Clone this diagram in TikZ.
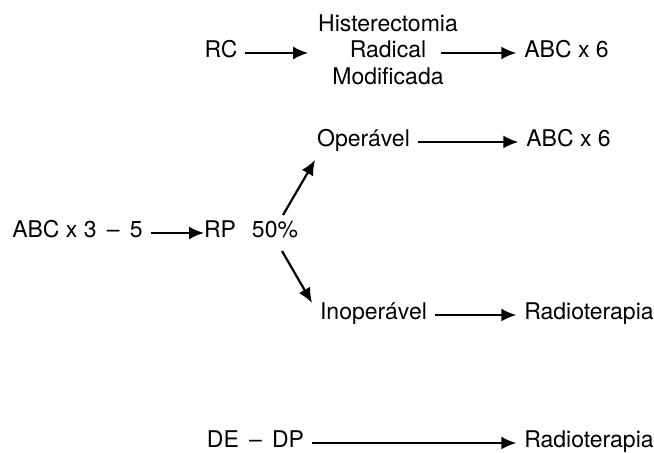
\documentclass[tikz,border=0pt]{standalone}
\usepackage{fontspec}
\setmainfont{TeX Gyre Heros}
\usetikzlibrary{positioning,arrows.meta}

\begin{document}
\begin{tikzpicture}[
        x=0.5pt, y=-0.5pt,
        label/.style = {font=\fontsize{11.5}{14}\selectfont, text height=7.5pt, text depth=2.5pt, inner sep=4pt, outer sep=0pt},
        sublabel/.style = {label, inner sep=0pt},
        line/.style = {draw, -{Latex[length=7.5pt,width=6.5pt]}, line width=1.1pt}, % filled heads
        node distance=-0.7pt
    ]
        \useasboundingbox (0,0) rectangle (654,453);

        % Nodes
        \node [label] (rc) at (221,53) {RC};
        \node [label] (rad) at (388,53) {Radical};
        \node [sublabel, above=of rad] (hist) {Histerectomia};
        \node [sublabel, below=of rad] (modif) {Modificada};
        \node [label] (abc1) at (566.5,53) {ABC x 6};

        \node [label] (op) at (363.5,142) {Operável};
        \node [label] (abc2) at (568.5,142) {ABC x 6};

        \node [label] (abc35) at (77.5,233) {ABC x 3 \,--\, 5};
        \node [label] (rp) at (220,233) {RP};
        \node [label] (pct) at (275,233) {50\%};

        \node [label] (inop) at (373.5,315) {Inoperável};
        \node [label] (radio1) at (589,315) {Radioterapia};

        \node [label] (dedp) at (255.5,443) {DE \,--\, DP};
        \node [label] (radio2) at (589,443) {Radioterapia};

        % Lines
        \draw [line, shorten >=5pt] (rc) -- (hist.west |- rad);
        \draw [line, shorten <=3.5pt] (rad) -- (abc1);
        \draw [line] (op) -- (abc2);
        \draw [line, shorten >=-4pt] (abc35) -- (rp);
        \draw [line] ([xshift=4pt]pct.north) -- ([xshift=3pt]op.south west);
        \draw [line] ([xshift=3.5pt]pct.south) -- ([yshift=-3pt]inop.north west);
        \draw [line] (inop) -- (radio1);
        \draw [line] (dedp) -- (radio2);
    \end{tikzpicture}
\end{document}
